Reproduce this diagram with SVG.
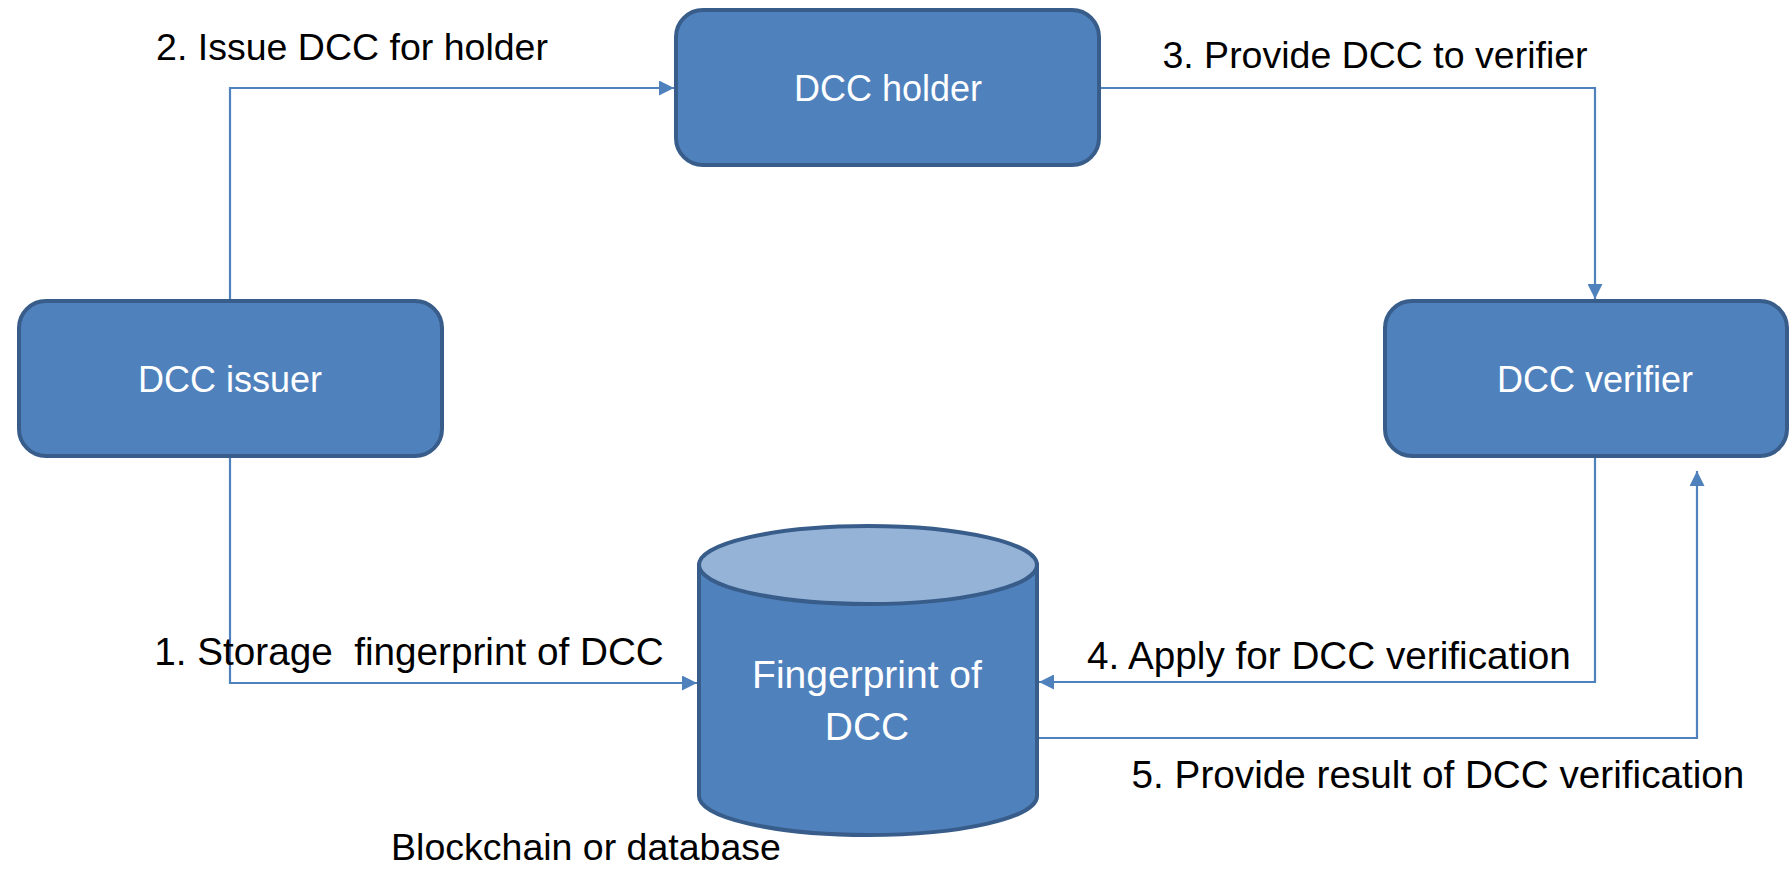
<svg xmlns="http://www.w3.org/2000/svg" width="1791" height="874" viewBox="0 0 1791 874">
<style>
  .box { fill: #4F81BD; stroke: #385D8A; stroke-width: 4; }
  .top { fill: #95B3D7; stroke: #385D8A; stroke-width: 4; }
  .ntext { font-family: "Liberation Sans", Arial, sans-serif; font-size: 36px; fill: #FFFFFF; text-anchor: middle; }
  .ctext { font-size: 39px; }
  .ltext { font-family: "Liberation Sans", Arial, sans-serif; font-size: 37.5px; fill: #000000; text-anchor: middle; white-space: pre; }
  .lbig { font-size: 38.7px; }
  .conn { fill: none; stroke: #4F81BD; stroke-width: 2.2; }
</style>
<defs>
  <marker id="arrow" viewBox="0 0 10 10" refX="10" refY="5" markerUnits="userSpaceOnUse" markerWidth="15" markerHeight="15" orient="auto">
    <path d="M0,0 L10,5 L0,10 Z" fill="#4F81BD"/>
  </marker>
</defs>
<rect width="1791" height="874" fill="#FFFFFF"/>
<g id="connectors">
  <path class="conn" d="M230,458 V683 H697" marker-end="url(#arrow)"/>
  <path class="conn" d="M230,301 V88 H674" marker-end="url(#arrow)"/>
  <path class="conn" d="M1099,88 H1595 V299" marker-end="url(#arrow)"/>
  <path class="conn" d="M1595,458 V682 H1039" marker-end="url(#arrow)"/>
  <path class="conn" d="M1039,738 H1697 V471" marker-end="url(#arrow)"/>
</g>
<g id="holder">
  <rect class="box" x="676" y="10" width="423" height="155" rx="27" ry="27"/>
  <text class="ntext" x="888" y="101">DCC holder</text>
</g>
<g id="issuer">
  <rect class="box" x="19" y="301" width="423" height="155" rx="27" ry="27"/>
  <text class="ntext" x="230" y="392">DCC issuer</text>
</g>
<g id="verifier">
  <rect class="box" x="1385" y="301" width="402" height="155" rx="27" ry="27"/>
  <text class="ntext" x="1595" y="392">DCC verifier</text>
</g>
<g id="fingerprint">
  <path class="box" d="M699,565 V796 A169,39 0 0 0 1037,796 V565 Z"/>
  <ellipse class="top" cx="868" cy="565" rx="169" ry="39"/>
  <text class="ntext ctext" x="867" y="688">Fingerprint of</text>
  <text class="ntext ctext" x="867" y="740">DCC</text>
</g>
<g id="labels">
  <text class="ltext" x="352" y="60">2. Issue DCC for holder</text>
  <text class="ltext" x="1375" y="68">3. Provide DCC to verifier</text>
  <text class="ltext lbig" x="409" y="665" xml:space="preserve">1. Storage  fingerprint of DCC</text>
  <text class="ltext lbig" x="1329" y="669">4. Apply for DCC verification</text>
  <text class="ltext lbig" x="1438" y="788">5. Provide result of DCC verification</text>
  <text class="ltext" x="586" y="860">Blockchain or database</text>
</g>
</svg>
